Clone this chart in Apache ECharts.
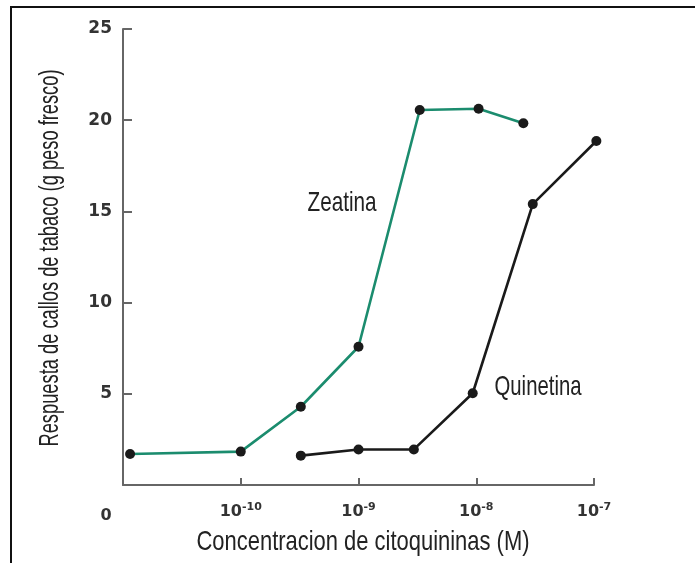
<!DOCTYPE html>
<html><head><meta charset="utf-8">
<script src="https://cdn.jsdelivr.net/npm/echarts@6/dist/echarts.min.js"></script>
<style>html,body{margin:0;padding:0;background:#fff}#c{width:695px;height:563px}</style>
</head><body><div id="c"></div>
<script>
// x = decade position: 0 -> "0", 1 -> 10^-10, 2 -> 10^-9, 3 -> 10^-8, 4 -> 10^-7
const xTickLabels = ['0', '-10', '-9', '-8', '-7'];
const zeatinaX = [0.06, 1.0, 1.51, 2.0, 2.52, 3.02, 3.40];
const zeatinaY = [1.70, 1.83, 4.29, 7.58, 20.56, 20.63, 19.83];
const quinetinaX = [1.51, 2.0, 2.47, 2.97, 3.48, 4.02];
const quinetinaY = [1.61, 1.95, 1.95, 5.03, 15.4, 18.86];
const yTicks = [5, 10, 15, 20, 25];
const xTitle = 'Concentracion de citoquininas (M)';
const yTitle = 'Respuesta de callos de tabaco (g peso fresco)';

const pair = (xs, ys) => xs.map((x, i) => [x, ys[i]]);
const chart = echarts.init(document.getElementById('c'));
const narrowFamily = "'Liberation Sans',sans-serif";
const ctx = document.createElement('canvas').getContext('2d');
function narrowText(text, cx, cy, targetWidth, size, rotation) {
  const font = size + 'px ' + narrowFamily;
  ctx.font = font;
  const w = ctx.measureText(text).width;
  return {type: 'text', x: cx, y: cy, rotation: rotation || 0, scaleX: targetWidth / w, scaleY: 1,
    silent: true,
    style: {text: text, font: font, fill: '#222', align: 'center', verticalAlign: 'middle'}};
}
const labelFont = 'DejaVu Sans';
chart.setOption({
  animation: false,
  grid: {left: 123, right: 101, top: 29, bottom: 78, containLabel: false},
  xAxis: {
    type: 'value', min: 0, max: 4, interval: 1,
    axisLine: {lineStyle: {color: '#666', width: 2}},
    axisTick: {inside: true, length: 7, lineStyle: {color: '#666', width: 2},
      customValues: [1, 2, 3, 4]},
    splitLine: {show: false},
    axisLabel: {
      margin: 17,
      formatter: v => v === 0 ? '{z|0}' : '{b|10}{s|' + xTickLabels[v] + '}',
      rich: {
        z: {fontFamily: labelFont, fontWeight: 'bold', fontSize: 16, color: '#333', padding: [6, 34, 0, 0]},
        b: {fontFamily: labelFont, fontWeight: 'bold', fontSize: 16, color: '#333'},
        s: {fontFamily: labelFont, fontWeight: 'bold', fontSize: 11, color: '#333', verticalAlign: 'top', padding: [0, 0, 9, 0]}
      }
    }
  },
  yAxis: {
    type: 'value', min: 0, max: 25, interval: 5,
    axisLine: {show: true, lineStyle: {color: '#666', width: 2}},
    axisTick: {show: true, inside: true, length: 9, lineStyle: {color: '#666', width: 2},
      customValues: yTicks},
    splitLine: {show: false},
    axisLabel: {
      margin: 11, fontFamily: labelFont, fontWeight: 'bold', fontSize: 17, color: '#333',
      customValues: yTicks
    }
  },
  graphic: [
    {type: 'rect', shape: {x: 11, y: 7, width: 720, height: 600},
      style: {fill: 'none', stroke: '#111', lineWidth: 2}, silent: true},
    narrowText(xTitle, 363, 542, 333, 28),
    narrowText(yTitle, 50, 258, 377, 28, Math.PI / 2),
    narrowText('Zeatina', 342, 203, 69, 28),
    narrowText('Quinetina', 538, 387, 87, 28)
  ],
  series: [
    {name: 'Zeatina', type: 'line', data: pair(zeatinaX, zeatinaY), clip: false,
      lineStyle: {color: '#1b8c6e', width: 2.6}, symbol: 'circle', symbolSize: 10,
      itemStyle: {color: '#1a1a1a'}, z: 3},
    {name: 'Quinetina', type: 'line', data: pair(quinetinaX, quinetinaY), clip: false,
      lineStyle: {color: '#1a1a1a', width: 2.6}, symbol: 'circle', symbolSize: 10,
      itemStyle: {color: '#1a1a1a'}, z: 3}
  ]
});
</script></body></html>
